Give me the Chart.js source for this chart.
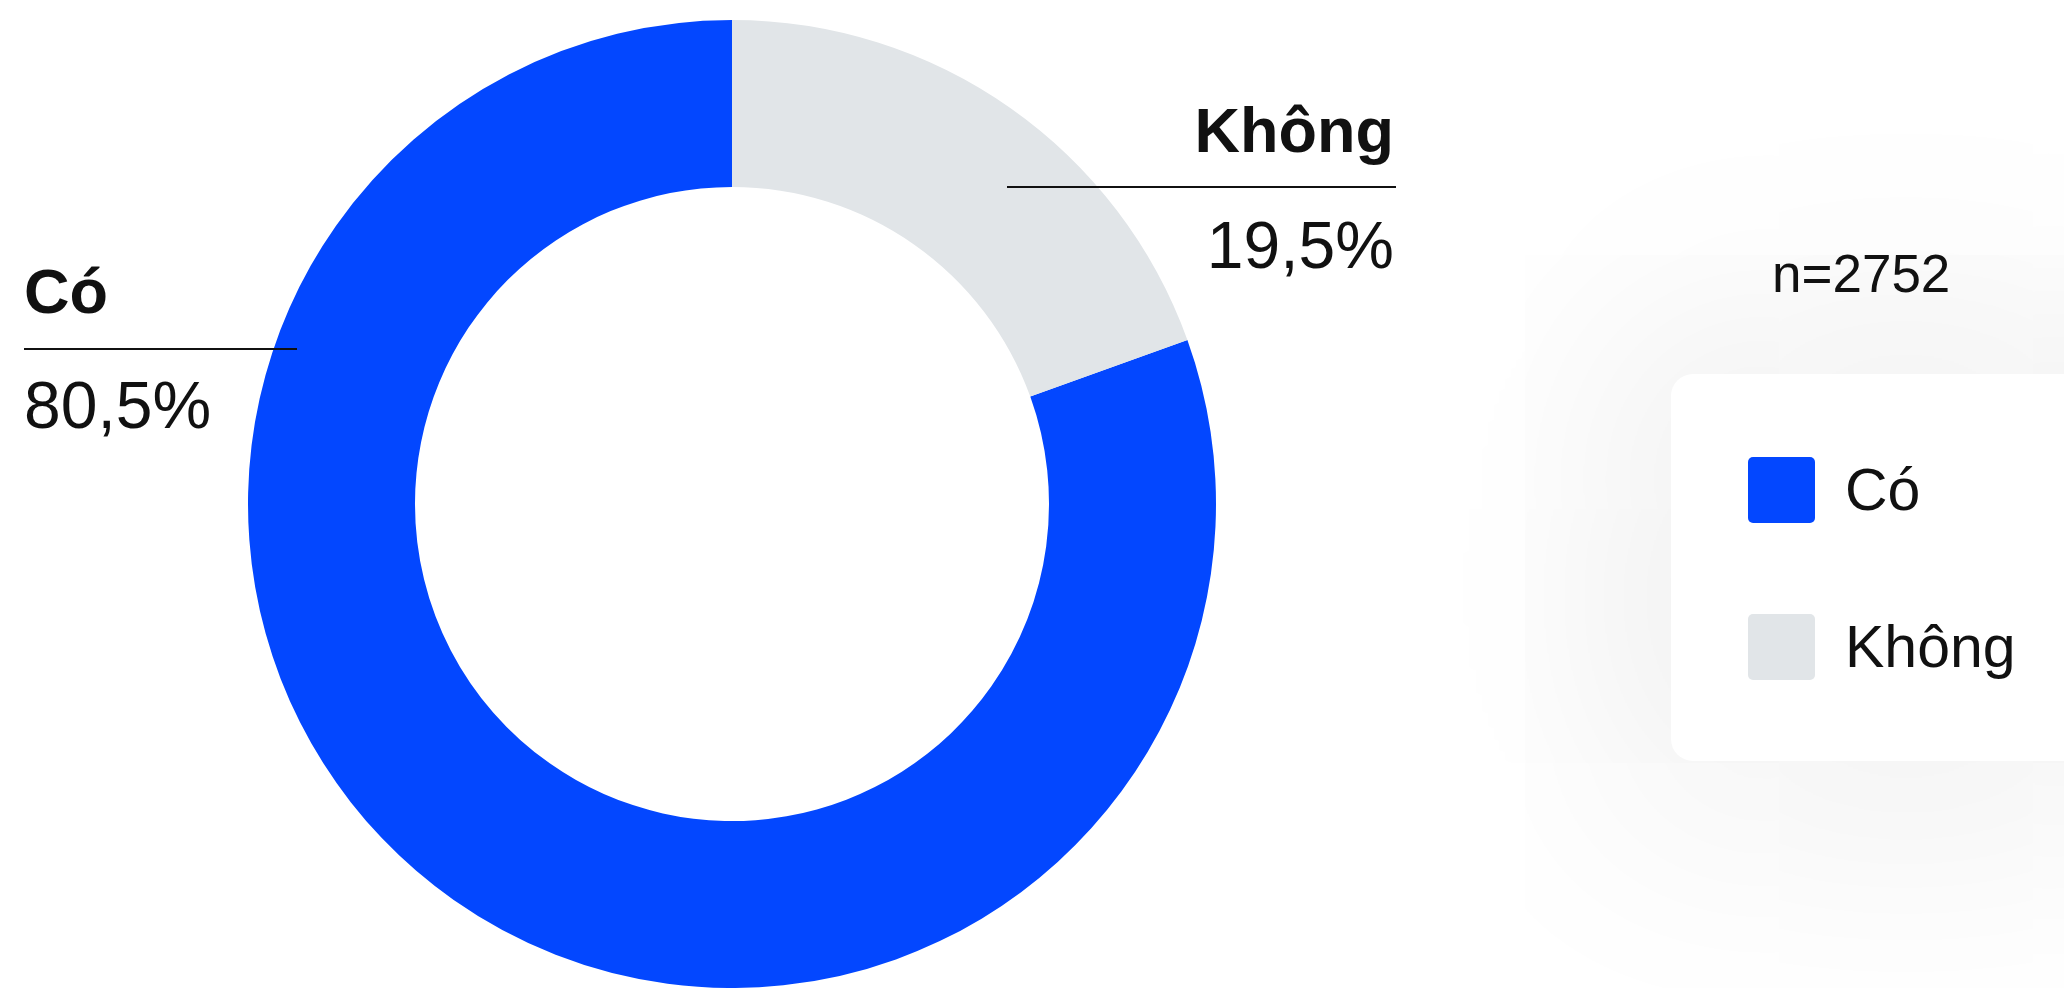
<!DOCTYPE html>
<html lang="vi">
<head>
<meta charset="utf-8">
<title>Có / Không</title>
<script src="https://cdn.jsdelivr.net/npm/chart.js@4/dist/chart.umd.min.js"></script>
<style>
    html, body {
        margin: 0;
        padding: 0;
        width: 2064px;
        height: 988px;
        overflow: hidden;
        background: #ffffff;
        font-family: "Liberation Sans", Arial, sans-serif;
    }
    .legend-card {
        position: absolute;
        left: 1671px;
        top: 374px;
        width: 480px;
        height: 387px;
        background: #ffffff;
        border-radius: 22px;
        box-shadow: 0 0 420px 60px rgba(0, 0, 0, 0.07);
    }
    #chart {
        position: absolute;
        left: 0;
        top: 0;
        z-index: 1;
    }
    .sample-size {
        position: absolute;
        left: 1772px;
        top: 243px;
        font-size: 53px;
        line-height: 62px;
        color: #111;
        z-index: 2;
    }
    .legend-item {
        position: absolute;
        left: 1748px;
        display: flex;
        align-items: center;
        z-index: 2;
    }
    .legend-swatch {
        width: 67px;
        height: 66px;
        border-radius: 5px;
        margin-right: 30px;
    }
    .legend-label {
        font-size: 59px;
        color: #111;
    }
</style>
</head>
<body>
<div class="legend-card"></div>
<canvas id="chart" width="2064" height="988"></canvas>
<div class="sample-size">n=2752</div>
<div id="legend"></div>

<script>
// Chart data
const categories = ['Có', 'Không'];
const percentValues = [80.5, 19.5];
const valueLabels = ['80,5%', '19,5%'];
const sliceColors = ['#0347FF', '#E1E5E8'];

// Where the callout labels sit (page pixels)
const calloutPlacement = [
    { align: 'left', x: 24, lineY: 349, lineFrom: 24, lineTo: 297, titleY: 313, valueY: 428 },
    { align: 'right', x: 1394, lineY: 187, lineFrom: 1007, lineTo: 1396, titleY: 152, valueY: 268 }
];

// Legend in the white card
const legendTops = [456, 613];
const legendEl = document.getElementById('legend');
legendEl.innerHTML = categories.map((c, i) => `
    <div class="legend-item" style="top:${legendTops[i]}px">
        <div class="legend-swatch" style="background:${sliceColors[i]}"></div>
        <div class="legend-label">${c}</div>
    </div>
`).join('');

// Draws the bold name, rule and percentage for every slice
const calloutPlugin = {
    id: 'callouts',
    afterDatasetsDraw(chart) {
        const ctx = chart.ctx;
        ctx.save();
        ctx.fillStyle = '#111111';
        ctx.strokeStyle = '#111111';
        ctx.textBaseline = 'alphabetic';
        categories.forEach((name, i) => {
            const p = calloutPlacement[i];
            ctx.textAlign = p.align;
            ctx.font = 'bold 63px "Liberation Sans", Arial, sans-serif';
            ctx.fillText(name, p.x, p.titleY);
            ctx.font = '66px "Liberation Sans", Arial, sans-serif';
            ctx.fillText(valueLabels[i], p.x, p.valueY);
            ctx.lineWidth = 2;
            ctx.beginPath();
            ctx.moveTo(p.lineFrom, p.lineY);
            ctx.lineTo(p.lineTo, p.lineY);
            ctx.stroke();
        });
        ctx.restore();
    }
};

const total = percentValues.reduce((s, v) => s + v, 0);

new Chart(document.getElementById('chart'), {
    type: 'doughnut',
    data: {
        labels: categories,
        datasets: [{
            data: percentValues,
            backgroundColor: sliceColors,
            borderWidth: 0,
            hoverOffset: 0
        }]
    },
    options: {
        responsive: false,
        animation: false,
        // start "Có" where "Không" ends so "Không" sits at the top right
        rotation: percentValues[1] / total * 360,
        cutout: '65.5%',
        layout: {
            padding: { left: 248, right: 848, top: 20, bottom: 0 }
        },
        plugins: {
            legend: { display: false },
            tooltip: { enabled: false }
        }
    },
    plugins: [calloutPlugin]
});
</script>
</body>
</html>
